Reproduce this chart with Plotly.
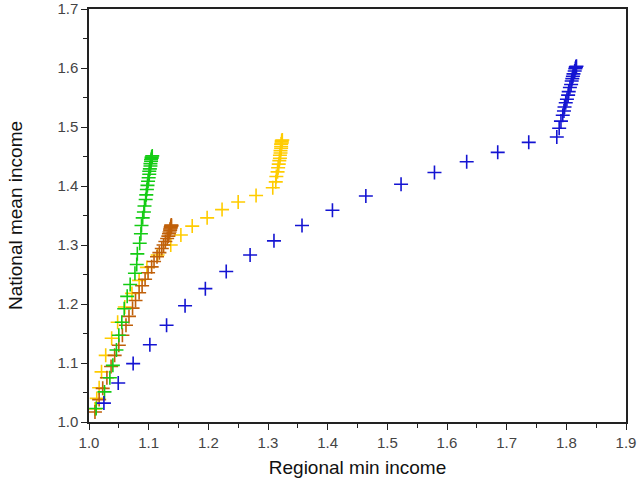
import plotly.graph_objects as go

# Blue series
blue_x = [1.025, 1.049, 1.074, 1.102, 1.130, 1.161, 1.195, 1.230, 1.270, 1.310,
          1.357, 1.408, 1.464, 1.523, 1.579, 1.633, 1.685, 1.737,
          1.784, 1.788, 1.791, 1.794, 1.796, 1.797, 1.799, 1.801, 1.803, 1.804,
          1.806, 1.808, 1.809, 1.810, 1.811, 1.812, 1.814, 1.815, 1.816, 1.816, 1.817]
blue_y = [1.032, 1.066, 1.099, 1.131, 1.164, 1.197, 1.226, 1.255, 1.283, 1.307,
          1.333, 1.359, 1.383, 1.403, 1.423, 1.441, 1.457, 1.474,
          1.483, 1.498, 1.510, 1.520, 1.527, 1.534, 1.541, 1.547, 1.554, 1.560,
          1.567, 1.572, 1.578, 1.582, 1.586, 1.590, 1.595, 1.599, 1.601, 1.602, 1.603]

# Yellow series
yellow_x = [1.010, 1.013, 1.017, 1.021, 1.028, 1.038, 1.048, 1.060, 1.072, 1.084,
            1.097, 1.115, 1.137, 1.154, 1.173, 1.198, 1.223, 1.250, 1.280, 1.308,
            1.313, 1.314, 1.316, 1.317, 1.318, 1.319, 1.320, 1.320, 1.321, 1.321,
            1.322, 1.322, 1.322, 1.323, 1.323, 1.323, 1.324]
yellow_y = [1.022, 1.040, 1.058, 1.085, 1.113, 1.142, 1.169, 1.195, 1.218, 1.240,
            1.262, 1.283, 1.300, 1.317, 1.332, 1.346, 1.360, 1.373, 1.384, 1.397,
            1.407, 1.416, 1.424, 1.431, 1.437, 1.443, 1.447, 1.452, 1.456, 1.460,
            1.464, 1.467, 1.471, 1.473, 1.475, 1.477, 1.478]

# Brown series
brown_x = [1.010, 1.017, 1.023, 1.030, 1.037, 1.043, 1.050, 1.056, 1.062, 1.067,
           1.073, 1.078, 1.084, 1.089, 1.094, 1.099, 1.105, 1.109, 1.114, 1.118,
           1.122, 1.125, 1.128, 1.131, 1.133, 1.134, 1.135, 1.136, 1.136, 1.137,
           1.137, 1.138, 1.138, 1.138]
brown_y = [1.017, 1.038, 1.057, 1.075, 1.094, 1.113, 1.130, 1.147, 1.164, 1.179,
           1.193, 1.206, 1.219, 1.231, 1.242, 1.253, 1.263, 1.272, 1.280, 1.287,
           1.294, 1.300, 1.306, 1.311, 1.315, 1.319, 1.322, 1.325, 1.327, 1.329,
           1.331, 1.332, 1.333, 1.334]

# Green series
green_x = [1.012, 1.026, 1.035, 1.040, 1.046, 1.050, 1.055, 1.059, 1.064, 1.069,
           1.077, 1.080, 1.081, 1.085, 1.087, 1.088, 1.090, 1.092, 1.093, 1.095,
           1.096, 1.097, 1.098, 1.099, 1.100, 1.101, 1.101, 1.102, 1.103, 1.103,
           1.104, 1.104, 1.105, 1.105, 1.106]
green_y = [1.023, 1.051, 1.075, 1.096, 1.122, 1.147, 1.169, 1.192, 1.213, 1.233,
           1.252, 1.267, 1.285, 1.303, 1.319, 1.333, 1.346, 1.356, 1.366, 1.377,
           1.385, 1.394, 1.401, 1.408, 1.414, 1.420, 1.425, 1.429, 1.434, 1.438,
           1.442, 1.445, 1.447, 1.449, 1.451]

x_ticks = [1.0, 1.1, 1.2, 1.3, 1.4, 1.5, 1.6, 1.7, 1.8, 1.9]
y_ticks = [1.0, 1.1, 1.2, 1.3, 1.4, 1.5, 1.6, 1.7]

series = [
    (yellow_x, yellow_y, "#ffcc00"),
    (brown_x, brown_y, "#c0600a"),
    (green_x, green_y, "#14cc14"),
    (blue_x, blue_y, "#1414d2"),
]

fig = go.Figure()
for xs, ys, col in series:
    fig.add_trace(go.Scatter(
        x=xs, y=ys, mode="markers",
        marker=dict(symbol="cross-thin", size=10,
                    line=dict(color=col, width=1.6), color=col),
        showlegend=False, cliponaxis=False,
    ))

axis_common = dict(
    showline=True, linecolor="#222", linewidth=1.5, mirror=True,
    ticks="outside", ticklen=6, tickwidth=1.2, tickcolor="#222",
    showgrid=False, zeroline=False, automargin=False,
    tickfont=dict(family="Liberation Sans, Arial", size=15, color="#444"),
    tickformat=".1f",
    minor=dict(ticks="outside", ticklen=4, tickwidth=1.2, tickcolor="#222", dtick=0.05),
)

title_font = dict(family="Liberation Sans, Arial", size=19, color="#111")

fig.update_layout(
    width=637, height=478,
    margin=dict(l=89, r=11, t=9, b=56),
    plot_bgcolor="white", paper_bgcolor="white",
    xaxis=dict(range=[1.0, 1.9], tickvals=x_ticks,
               title=dict(text="Regional min income", standoff=12, font=title_font),
               **axis_common),
    yaxis=dict(range=[1.0, 1.7], tickvals=y_ticks,
               title=dict(text="National mean income", standoff=30, font=title_font),
               **axis_common),
)

fig.write_html("out.html")
